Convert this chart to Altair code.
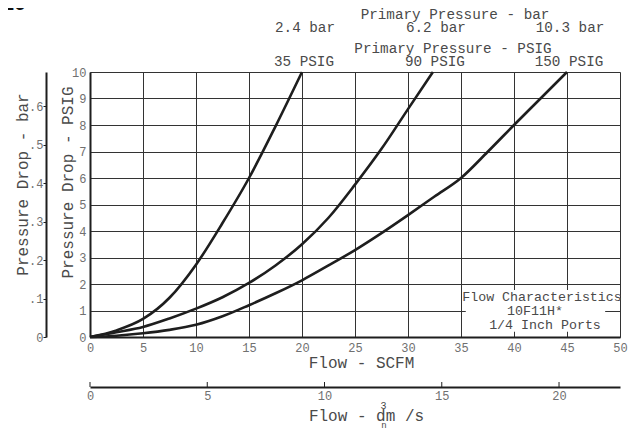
import altair as alt
import pandas as pd

# ---- data ----
flow_35 = [0, 2.5, 5, 7.5, 10, 12.5, 15, 17.5, 20]
dp_35 = [0, 0.25, 0.68, 1.48, 2.73, 4.3, 6.0, 7.95, 10.0]

flow_90 = [0, 2.5, 5, 7.5, 10, 12.5, 15, 17.5, 20, 22.5, 25, 27.5, 30, 32.35]
dp_90 = [0, 0.18, 0.38, 0.7, 1.07, 1.5, 2.04, 2.7, 3.5, 4.5, 5.75, 7.1, 8.6, 10.0]

flow_150 = [0, 2.5, 5, 7.5, 10, 12.5, 15, 17.5, 20, 22.5, 25, 27.5, 30, 32.5, 35, 37.5, 40, 42.5, 45]
dp_150 = [0, 0.05, 0.14, 0.27, 0.46, 0.78, 1.2, 1.65, 2.14, 2.7, 3.28, 3.92, 4.6, 5.3, 6.0, 6.98, 8.0, 9.0, 10.0]

psig_labels = ["35 PSIG", "90 PSIG", "150 PSIG"]
bar_labels = ["2.4 bar", "6.2 bar", "10.3 bar"]

scfm_ticks = list(range(0, 51, 5))
psig_ticks = list(range(0, 11))
bar_ticks = [0, 0.1, 0.2, 0.3, 0.4, 0.5, 0.6]
dm_ticks = [0, 5, 10, 15, 20]

PSI_TO_BAR = 0.0689476
DM_MAX = 22.6  # dm3n/s spanning the SCFM 0-50 axis as drawn

box_text = ["Flow Characteristics", "10F11H*", "1/4 Inch Ports"]

# ---- tables ----
curves = pd.concat([
    pd.DataFrame({"flow": flow_35, "dp": dp_35, "curve": psig_labels[0]}),
    pd.DataFrame({"flow": flow_90, "dp": dp_90, "curve": psig_labels[1]}),
    pd.DataFrame({"flow": flow_150, "dp": dp_150, "curve": psig_labels[2]}),
])
ends = pd.DataFrame({
    "flow": [flow_35[-1], flow_90[-1], flow_150[-1]],
    "psig": psig_labels,
    "bar": bar_labels,
})

W, H = 530, 265
FONT = "Liberation Mono"
TXT = "#4a4a4a"
LBL = "#707070"
INK = "#1e1e1e"

xs = alt.Scale(domain=[0, 50], nice=False, zero=True)
ys = alt.Scale(domain=[0, 10], nice=False, zero=True)

lines = alt.Chart(curves).mark_line(
    color=INK, strokeWidth=2.6, interpolate="monotone"
).encode(
    x=alt.X("flow:Q", scale=xs, axis=alt.Axis(
        values=scfm_ticks, grid=True, gridColor="#333333", gridWidth=1, gridOpacity=1,
        ticks=False, tickSize=0, labelPadding=5, labelFont=FONT, labelFontSize=12,
        labelColor=LBL, labelFlush=False,
        domainColor=INK, domainWidth=2,
        title="Flow - SCFM", titleFont=FONT, titleFontSize=16, titleFontWeight="normal",
        titleColor=TXT, titleX=271, titleY=25, titleBaseline="middle", titleAlign="center",
    )),
    y=alt.Y("dp:Q", scale=ys, axis=alt.Axis(
        values=psig_ticks, grid=True, gridColor="#333333", gridWidth=1, gridOpacity=1,
        ticks=False, tickSize=0, labelPadding=4, labelFont=FONT, labelFontSize=12,
        labelColor=LBL, labelFlush=False,
        domainColor=INK, domainWidth=2,
        title="Pressure Drop - PSIG", titleFont=FONT, titleFontSize=16,
        titleFontWeight="normal", titleColor=TXT, titleAngle=270,
        titleX=-23, titleY=110, titleBaseline="middle", titleAlign="center",
    )),
    detail="curve:N",
)

# white box behind the legend text
box = alt.Chart(pd.DataFrame({"x": [35.45], "x2": [48.6], "y": [0.2], "y2": [1.77]})).mark_rect(
    fill="white"
).encode(
    x=alt.X("x:Q", scale=xs, axis=None), x2="x2:Q",
    y=alt.Y("y:Q", scale=ys, axis=None), y2="y2:Q",
)

top_psig = alt.Chart(ends).mark_text(
    font=FONT, fontSize=14.3, color=TXT, baseline="middle", align="center", dx=2
).encode(x=alt.X("flow:Q", scale=xs, axis=None), y=alt.value(-10.5), text="psig:N")

top_bar = alt.Chart(ends).mark_text(
    font=FONT, fontSize=14.3, color=TXT, baseline="middle", align="center", dx=3
).encode(x=alt.X("flow:Q", scale=xs, axis=None), y=alt.value(-44.5), text="bar:N")


def label(text, x, y, size, color=TXT, **kw):
    return alt.Chart(pd.DataFrame({"t": [text]})).mark_text(
        font=kw.pop("font", FONT), fontSize=size, color=color, **kw
    ).encode(x=alt.value(x), y=alt.value(y), text="t:N")


t_bar = label("Primary Pressure - bar", 365, -57, 14.3, baseline="middle", align="center")
t_psig = label("Primary Pressure - PSIG", 363, -23.5, 14.3, baseline="middle", align="center")
b1 = label(box_text[0], 452, 225, 13.3, baseline="middle", align="center")
b2 = label(box_text[1], 445, 238.7, 13.3, baseline="middle", align="center")
b3 = label(box_text[2], 455, 253, 13.3, baseline="middle", align="center")
fig = label("10", -76, -62, 22, color="#111111", font="Liberation Sans",
            fontWeight="bold", baseline="alphabetic", align="center")
sup3 = label("3", 293.5, 334, 10, baseline="middle", align="center")
subn = label("n", 294, 355.5, 9, baseline="alphabetic", align="center")

# secondary left axis in bar
bar_layer = alt.Chart(pd.DataFrame({"b": bar_ticks})).mark_point(opacity=0).encode(
    x=alt.value(0),
    y=alt.Y("b:Q", scale=alt.Scale(domain=[0, 10 * PSI_TO_BAR], nice=False, zero=True),
            axis=alt.Axis(
                orient="left", offset=44, values=bar_ticks, grid=False,
                labelExpr="datum.value == 0 ? '0' : replace(format(datum.value, '.1f'), '0.', '.')",
                tickSize=3, tickColor=INK, tickWidth=1, labelPadding=0,
                labelFont=FONT, labelFontSize=12, labelColor=LBL, labelFlush=False,
                domainColor=INK, domainWidth=2,
                title="Pressure Drop - bar", titleFont=FONT, titleFontSize=16,
                titleFontWeight="normal", titleColor=TXT, titleAngle=270,
                titleX=-24, titleY=112, titleBaseline="middle", titleAlign="center",
            )),
)

# secondary bottom axis in dm3n/s, with short upward ticks
dm_df = pd.DataFrame({"d": dm_ticks})
dm_scale = alt.Scale(domain=[0, DM_MAX], nice=False, zero=True)
dm_layer = alt.Chart(dm_df).mark_rule(color=INK, strokeWidth=1).encode(
    x=alt.X("d:Q", scale=dm_scale, axis=alt.Axis(
        orient="bottom", offset=50, values=dm_ticks, grid=False,
        ticks=False, tickSize=0, labelPadding=3,
        labelFont=FONT, labelFontSize=12, labelColor=LBL, labelFlush=False,
        domainColor=INK, domainWidth=2,
        title="Flow - dm /s", titleFont=FONT, titleFontSize=16, titleFontWeight="normal",
        titleColor=TXT, titleX=276, titleY=28, titleBaseline="middle", titleAlign="center",
    )),
    y=alt.value(H + 45),
    y2=alt.value(H + 50),
)

chart = alt.layer(
    lines, box, top_psig, top_bar, t_bar, t_psig, b1, b2, b3, fig, sup3, subn,
    bar_layer, dm_layer,
).resolve_scale(
    x="independent", y="independent"
).properties(
    width=W, height=H,
    autosize=alt.AutoSizeParams(type="none"),
    padding={"left": 82, "top": 64, "right": 8, "bottom": 91},
).configure_view(
    stroke=INK, strokeWidth=2
).configure(background="white")

chart.save("out.html", embed_options={"renderer": "svg", "actions": False})
